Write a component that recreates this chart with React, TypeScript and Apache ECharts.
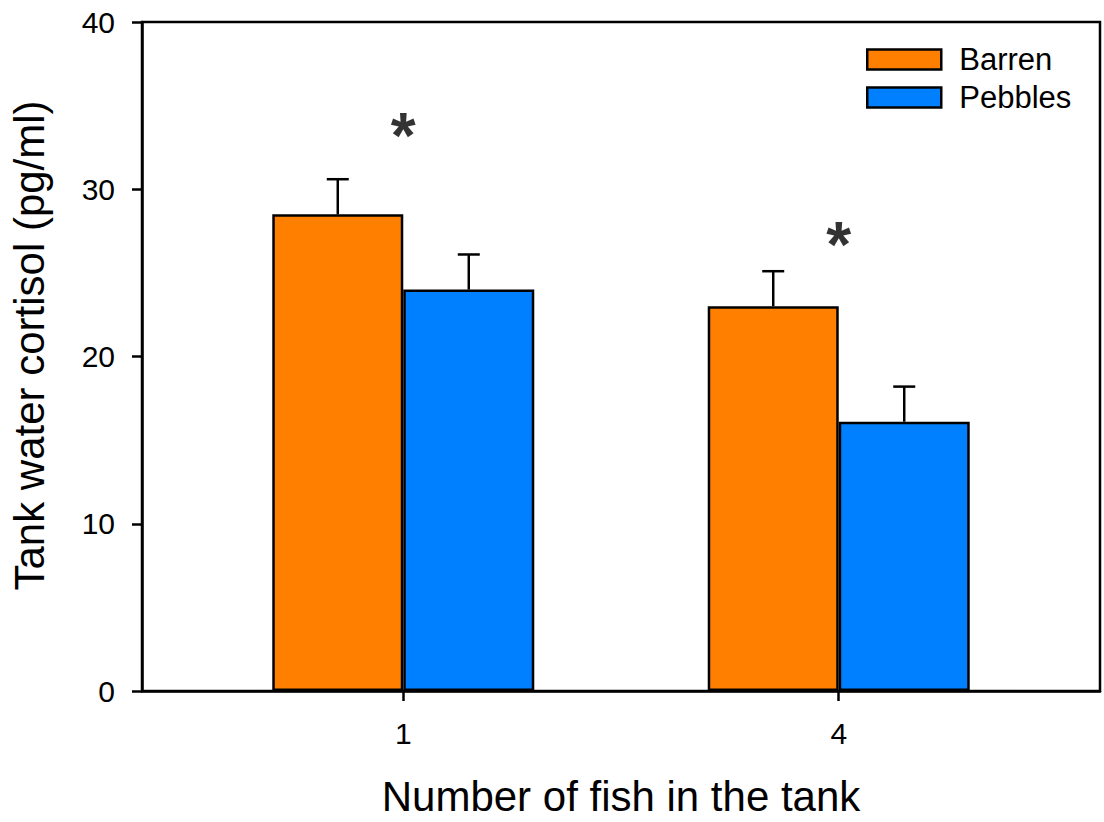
import React, { useEffect, useRef } from "react";
import * as echarts from "echarts";

const fishCounts = [1, 4];
const seriesNames = ["Barren", "Pebbles"];
const barrenMean = [28.5, 23.0];
const barrenErrTop = [30.6, 25.1];
const pebblesMean = [24.0, 16.1];
const pebblesErrTop = [26.1, 18.2];
const asteriskY = [33.6, 27.1];
const yTicks = [0, 10, 20, 30, 40];

const COLORS = ["#FF8000", "#0080FF"];
const FONT = "'Liberation Sans', Arial, Helvetica, sans-serif";
const BAR_W = 131;

export default function App() {
  const ref = useRef<HTMLDivElement>(null);
  useEffect(() => {
    if (!ref.current) return;
    const chart = echarts.init(ref.current, undefined, { renderer: "svg" });
    const errData: any[] = [];
    fishCounts.forEach((x, i) => {
      errData.push([x, barrenMean[i], barrenErrTop[i], -1]);
      errData.push([x, pebblesMean[i], pebblesErrTop[i], 1]);
    });
    const option: any = {
      animation: false,
      backgroundColor: "#fff",
      textStyle: { fontFamily: FONT },
      grid: {
        left: 141,
        right: 4,
        top: 22,
        bottom: 128,
        show: true,
        borderColor: "#000",
        borderWidth: 2.5,
        backgroundColor: "transparent",
      },
      legend: {
        data: seriesNames,
        orient: "vertical",
        left: 861,
        top: 39,
        itemWidth: 74,
        itemHeight: 20,
        itemGap: 7,
        icon: "rect",
        itemStyle: { borderColor: "#000", borderWidth: 2.5 },
        textStyle: {
          fontFamily: FONT,
          fontSize: 31,
          lineHeight: 29,
          color: "#000",
          padding: [0, 0, 0, 13],
        },
      },
      xAxis: {
        type: "value",
        min: -0.8,
        max: 5.8,
        name: "Number of fish in the tank",
        nameLocation: "middle",
        nameGap: 84,
        nameTextStyle: { fontFamily: FONT, fontSize: 42, color: "#000" },
        axisLine: { show: true, onZero: false, lineStyle: { color: "#000", width: 2.5 } },
        axisTick: {
          show: true,
          customValues: fishCounts,
          length: 10,
          lineStyle: { color: "#000", width: 2.5 },
        },
        axisLabel: {
          customValues: fishCounts,
          formatter: (v: number) => String(v),
          fontFamily: FONT,
          fontSize: 30,
          color: "#000",
          margin: 27,
        },
        splitLine: { show: false },
      },
      yAxis: {
        type: "value",
        min: 0,
        max: 40,
        interval: 10,
        name: "Tank water cortisol (pg/ml)",
        nameLocation: "middle",
        nameGap: 92,
        nameTextStyle: {
          fontFamily: FONT,
          fontSize: 42,
          color: "#000",
          padding: [0, 0, 0, 22],
        },
        axisLine: { show: true, onZero: false, lineStyle: { color: "#000", width: 2.5 } },
        axisTick: { show: true, length: 10, lineStyle: { color: "#000", width: 2.5 } },
        axisLabel: {
          fontFamily: FONT,
          fontSize: 30,
          color: "#000",
          margin: 27,
          customValues: yTicks,
        },
        splitLine: { show: false },
      },
      series: [
        {
          name: seriesNames[0],
          type: "bar",
          barWidth: BAR_W,
          barGap: "0%",
          data: fishCounts.map((x, i) => [x, barrenMean[i]]),
          itemStyle: { color: COLORS[0], borderColor: "#000", borderWidth: 2.5 },
        },
        {
          name: seriesNames[1],
          type: "bar",
          barWidth: BAR_W,
          barGap: "0%",
          data: fishCounts.map((x, i) => [x, pebblesMean[i]]),
          itemStyle: { color: COLORS[1], borderColor: "#000", borderWidth: 2.5 },
        },
        {
          type: "custom",
          z: 5,
          data: errData,
          renderItem: (params: any, api: any) => {
            const x = api.value(0);
            const base = api.coord([x, api.value(1)]);
            const top = api.coord([x, api.value(2)]);
            const cx = base[0] + api.value(3) * (BAR_W / 2);
            const style = { stroke: "#000", lineWidth: 2.5 };
            return {
              type: "group",
              children: [
                { type: "line", shape: { x1: cx, y1: base[1], x2: cx, y2: top[1] }, style },
                { type: "line", shape: { x1: cx - 11, y1: top[1], x2: cx + 11, y2: top[1] }, style },
              ],
            };
          },
        },
        {
          type: "scatter",
          symbolSize: 0,
          z: 6,
          data: fishCounts.map((x, i) => [x, asteriskY[i]]),
          label: {
            show: true,
            position: "inside",
            formatter: "*",
            fontFamily: FONT,
            fontWeight: "bold",
            fontSize: 64,
            color: "#000",
            offset: [0, 7],
          },
        },
      ],
    };
    chart.setOption(option);
    return () => chart.dispose();
  }, []);
  return (
    <div
      ref={ref}
      style={{ position: "fixed", left: 0, top: 0, width: 1104, height: 822 }}
    />
  );
}
